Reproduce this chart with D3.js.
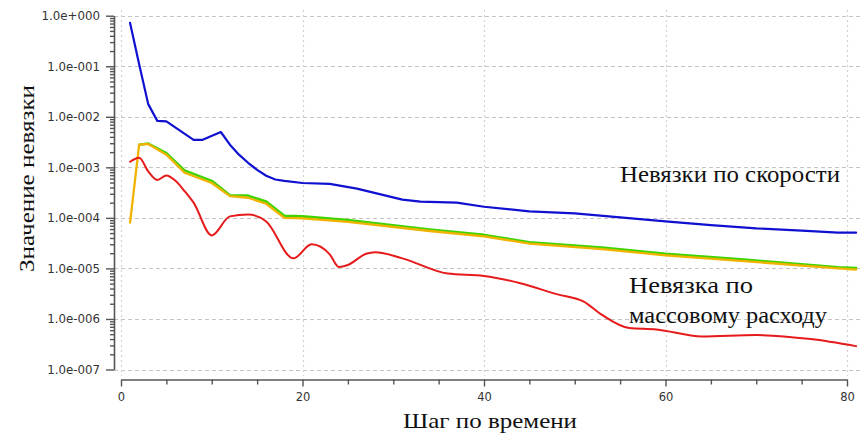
<!DOCTYPE html>
<html><head><meta charset="utf-8">
<script src="https://cdn.jsdelivr.net/npm/d3@7"></script>
<style>
html,body{margin:0;padding:0;background:#fff;}
svg{display:block;}
</style>
</head><body>
<svg id="chart" width="861" height="443"></svg>
<script>
// ---- data ----
const xTickValues = [0, 20, 40, 60, 80];
const yTickValues = [1e-7, 1e-6, 1e-5, 1e-4, 1e-3, 1e-2, 1e-1, 1];
const xLabel = "Шаг по времени";
const yLabel = "Значение невязки";
const labelVelocity = "Невязки по скорости";
const labelMass = ["Невязка по", "массовому расходу"];

const blueSteps  = [1, 2, 3, 4, 5, 8, 9, 11, 12, 13, 14, 15, 16, 17, 18, 20, 23, 26, 31, 33, 37, 40, 45, 50, 55, 60, 65, 70, 75, 79, 81];
const blueValues = [7.2e-1, 1.1e-1, 1.78e-2, 8.3e-3, 8.1e-3, 3.5e-3, 3.5e-3, 5.0e-3, 2.8e-3, 1.78e-3, 1.23e-3, 8.9e-4, 6.8e-4, 5.75e-4, 5.4e-4, 4.9e-4, 4.7e-4, 3.8e-4, 2.3e-4, 2.1e-4, 2.0e-4, 1.66e-4, 1.35e-4, 1.23e-4, 1.02e-4, 8.5e-5, 7.2e-5, 6.2e-5, 5.6e-5, 5.1e-5, 5.1e-5];

const greenSteps  = [2, 3, 5, 7, 10, 12, 14, 16, 18, 20, 25, 34, 40, 45, 53, 60, 69, 79, 81];
const greenValues = [2.8e-3, 2.95e-3, 1.9e-3, 8.7e-4, 5.4e-4, 2.8e-4, 2.75e-4, 2.1e-4, 1.1e-4, 1.07e-4, 9.1e-5, 5.9e-5, 4.6e-5, 3.3e-5, 2.6e-5, 1.95e-5, 1.48e-5, 1.05e-5, 1.02e-5];

const orangeSteps  = [1, 2, 3, 5, 7, 10, 12, 14, 16, 18, 20, 25, 34, 40, 45, 53, 60, 69, 79, 81];
const orangeValues = [8.1e-5, 2.8e-3, 2.9e-3, 1.78e-3, 7.8e-4, 4.9e-4, 2.7e-4, 2.5e-4, 1.9e-4, 1.0e-4, 9.8e-5, 8.3e-5, 5.5e-5, 4.3e-5, 3.1e-5, 2.4e-5, 1.82e-5, 1.38e-5, 1.0e-5, 9.5e-6];

const redSteps  = [1, 2, 3, 4, 5, 6, 7, 8, 10, 12, 14, 16, 19, 21, 23, 24, 25, 27, 28, 31, 36, 40, 44, 48, 51, 53, 56, 59, 64, 70, 76, 81];
const redValues = [1.29e-3, 1.55e-3, 8.3e-4, 5.6e-4, 6.9e-4, 5.4e-4, 3.4e-4, 2.0e-4, 4.5e-5, 1.07e-4, 1.17e-4, 8.5e-5, 1.58e-5, 3.0e-5, 1.9e-5, 1.07e-5, 1.17e-5, 1.95e-5, 2.1e-5, 1.58e-5, 7.9e-6, 7.1e-6, 5.1e-6, 3.1e-6, 2.2e-6, 1.2e-6, 6.6e-7, 6.2e-7, 4.5e-7, 4.8e-7, 4.0e-7, 2.9e-7];

// ---- chart ----
const svg = d3.select("#chart");
const x = d3.scaleLinear().domain([0, 80]).range([121, 847]);
const y = d3.scaleLog().domain([1e-7, 1]).range([369.5, 15.7]);
const axisX0 = 114;   // y-axis line position
const axisY0 = 379.5; // x-axis line position

// gridlines
const grid = svg.append("g");
grid.selectAll("line.h").data(yTickValues).join("line")
  .attr("x1", axisX0).attr("x2", 861)
  .attr("y1", d => Math.round(y(d)) + 0.5).attr("y2", d => Math.round(y(d)) + 0.5)
  .attr("stroke", "#c4c4c4").attr("stroke-width", 1).attr("stroke-dasharray", "4,3");
grid.selectAll("line.v").data(xTickValues).join("line")
  .attr("x1", d => Math.round(x(d)) + 0.5).attr("x2", d => Math.round(x(d)) + 0.5)
  .attr("y1", 10).attr("y2", 376)
  .attr("stroke", "#d2d2d2").attr("stroke-width", 1.2).attr("stroke-dasharray", "2,3");

// y axis: minor + major
const minorY = [];
for (let e = -7; e < 0; e++) for (let m = 2; m <= 9; m++) minorY.push(m * Math.pow(10, e));
const fmtY = d => {
  const e = Math.round(Math.log10(d));
  const s = e < 0 ? "-" : "+";
  return "1.0e" + s + String(Math.abs(e)).padStart(3, "0");
};
const gyMinor = svg.append("g").attr("transform", `translate(${axisX0},0)`)
  .call(d3.axisLeft(y).tickValues(minorY).tickSize(4).tickSizeOuter(0).tickFormat(""));
const gy = svg.append("g").attr("transform", `translate(${axisX0},0)`)
  .call(d3.axisLeft(y).tickValues(yTickValues).tickSize(8).tickSizeOuter(0).tickPadding(6).tickFormat(fmtY));
gyMinor.select(".domain").remove();
[gy, gyMinor].forEach(g => {
  g.selectAll("path.domain").attr("stroke", "#555").attr("stroke-width", 1.6);
  g.selectAll(".tick line").attr("stroke", "#555").attr("stroke-width", 1.4);
});
gy.selectAll(".tick text").attr("fill", "#333")
  .style("font-family", "'DejaVu Sans', Verdana, sans-serif").style("font-size", "11.8px");

// x axis: minor + major
const minorX = d3.range(0, 81, 5).filter(v => v % 20 !== 0);
const gxMinor = svg.append("g").attr("transform", `translate(0,${axisY0})`)
  .call(d3.axisBottom(x).tickValues(minorX).tickSize(5).tickSizeOuter(0).tickFormat(""));
gxMinor.select(".domain").remove();
const gx = svg.append("g").attr("transform", `translate(0,${axisY0})`)
  .call(d3.axisBottom(x).tickValues(xTickValues).tickSize(7).tickSizeOuter(0).tickPadding(6).tickFormat(d3.format("d")));
[gx, gxMinor].forEach(g => {
  g.selectAll("path.domain").attr("stroke", "#555").attr("stroke-width", 1.6);
  g.selectAll(".tick line").attr("stroke", "#555").attr("stroke-width", 1.4);
});
gx.selectAll(".tick text").attr("fill", "#333")
  .style("font-family", "'DejaVu Sans', Verdana, sans-serif").style("font-size", "11.5px");

// series
function drawSeries(steps, values, color, curve, width) {
  const pts = steps.map((s, i) => [s, values[i]]);
  svg.append("path").datum(pts)
    .attr("fill", "none").attr("stroke", color).attr("stroke-width", width)
    .attr("stroke-linejoin", "round").attr("stroke-linecap", "round")
    .attr("d", d3.line().x(d => x(d[0])).y(d => y(d[1])).curve(curve));
}
drawSeries(blueSteps, blueValues, "#1010d0", d3.curveLinear, 2.2);
drawSeries(greenSteps, greenValues, "#3fd400", d3.curveLinear, 2.6);
drawSeries(orangeSteps, orangeValues, "#f2b300", d3.curveLinear, 2.3);
drawSeries(redSteps, redValues, "#e61a1a", d3.curveMonotoneX, 2);

// annotations
const serif = "'Liberation Serif', 'Times New Roman', serif";
function label(txt, xx, yy, size, len) {
  svg.append("text").attr("x", xx).attr("y", yy)
    .attr("textLength", len).attr("lengthAdjust", "spacingAndGlyphs")
    .style("font-family", serif).style("font-size", size + "px").attr("fill", "#111")
    .text(txt);
}
label(labelVelocity, 620, 182, 24, 220);
label(labelMass[0], 629, 293, 24, 124);
label(labelMass[1], 629, 322.5, 24, 198);

// axis titles
svg.append("text").attr("x", 403).attr("y", 427.5)
  .attr("textLength", 174).attr("lengthAdjust", "spacingAndGlyphs")
  .style("font-family", serif).style("font-size", "22px").attr("fill", "#111")
  .text(xLabel);
svg.append("text").attr("transform", "translate(34,272) rotate(-90)")
  .attr("textLength", 187).attr("lengthAdjust", "spacingAndGlyphs")
  .style("font-family", serif).style("font-size", "22px").attr("fill", "#111")
  .text(yLabel);
</script>
</body></html>
